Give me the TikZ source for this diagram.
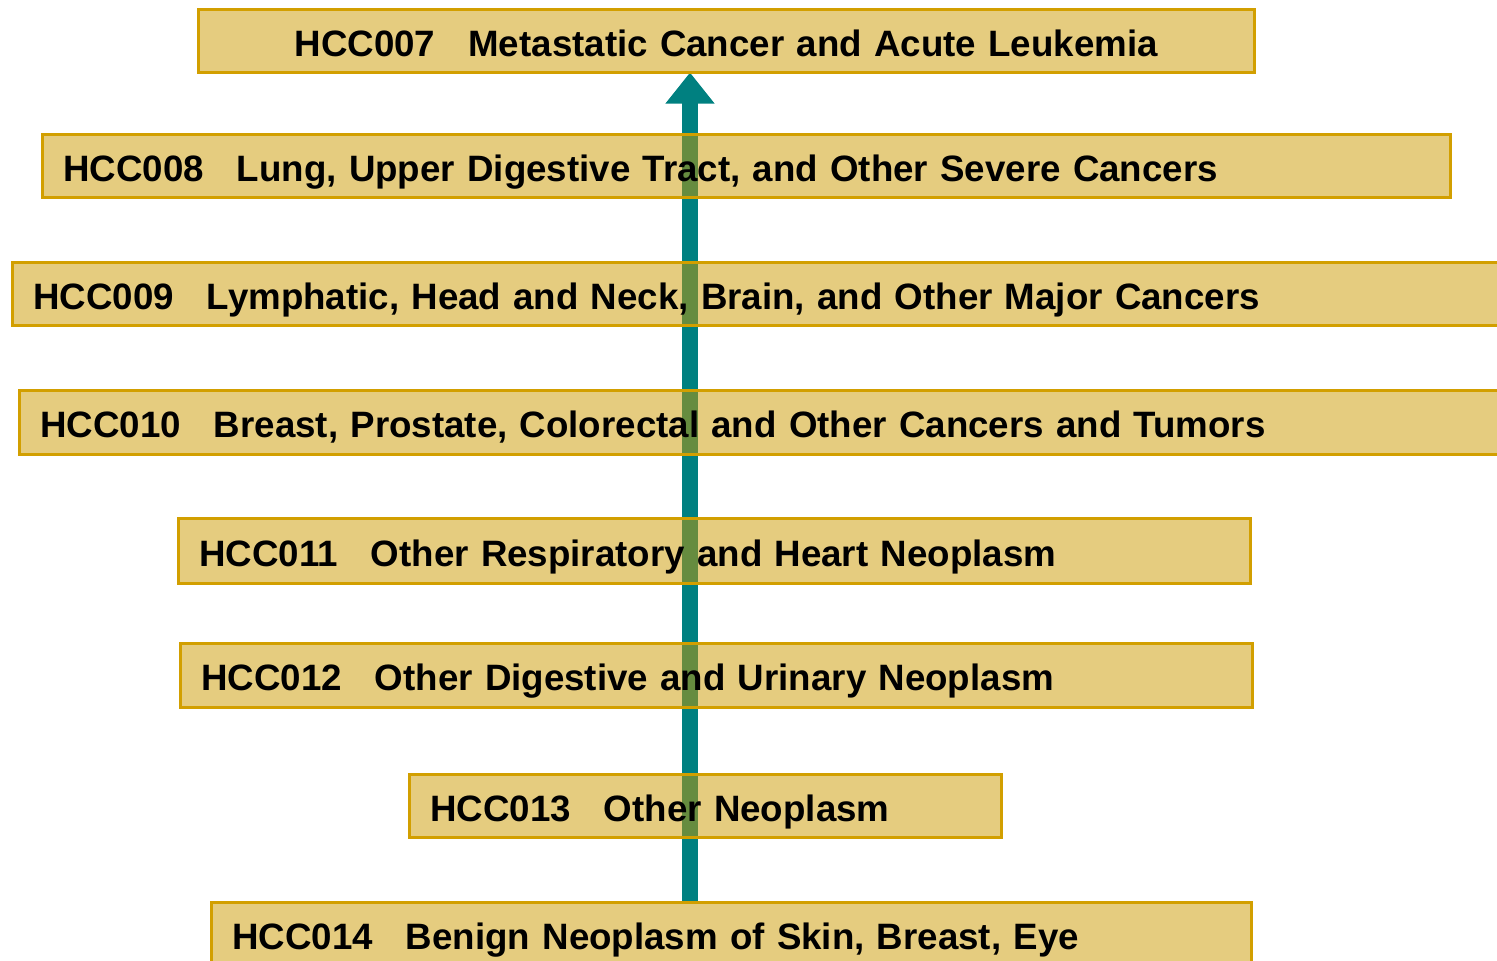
\documentclass[tikz,border=0pt]{standalone}
\usepackage{fontspec}
\setmainfont{Liberation Sans}
\usetikzlibrary{arrows.meta}
\definecolor{boxgold}{HTML}{CC9900}
\definecolor{boxline}{HTML}{D29F00}
\definecolor{arrowteal}{HTML}{008080}
\tikzset{
  hccbox/.style={draw=boxline, line width=2.5pt, fill=boxgold, fill opacity=0.5, text opacity=1,
    anchor=north west, minimum height=63pt, inner xsep=21pt, inner ysep=0pt, align=left,
    text height=35.5pt, text depth=5pt,
    font=\fontsize{36.7pt}{40pt}\selectfont\bfseries},
  bigarrow/.style={draw=arrowteal, line width=16pt, -{Triangle[width=47pt,length=31pt]}}
}
\newcommand{\gapcode}{\hspace{33pt}}
\begin{document}
\begin{tikzpicture}[x=1pt,y=-1pt]
\useasboundingbox (0,0) rectangle (1497,961);
\clip (0,0) rectangle (1497,961);
\coordinate (abot) at (690,903);
\coordinate (atop) at (690,72.5);
\draw[bigarrow] (abot) -- (atop);
\node[hccbox, text width=1056pt-42pt, align=center] (h7) at (197,8) {HCC007\gapcode Metastatic Cancer and Acute Leukemia};
\node[hccbox, text width=1408pt-42pt] (h8) at (41,133) {HCC008\gapcode Lung, Upper Digestive Tract, and Other Severe Cancers};
\node[hccbox, text width=1520pt-42pt] (h9) at (11,261) {HCC009\gapcode Lymphatic, Head and Neck, Brain, and Other Major Cancers};
\node[hccbox, text width=1520pt-42pt, minimum height=64pt] (h10) at (18,389) {HCC010\gapcode Breast, Prostate, Colorectal and Other Cancers and Tumors};
\node[hccbox, text width=1072pt-42pt, minimum height=65pt] (h11) at (177,517) {HCC011\gapcode Other Respiratory and Heart Neoplasm};
\node[hccbox, text width=1072pt-42pt, minimum height=64pt] (h12) at (179,642) {HCC012\gapcode Other Digestive and Urinary Neoplasm};
\node[hccbox, text width=592pt-42pt] (h13) at (408,773) {HCC013\gapcode Other Neoplasm};
\node[hccbox, text width=1040pt-42pt] (h14) at (210,901) {HCC014\gapcode Benign Neoplasm of Skin, Breast, Eye};
\end{tikzpicture}
\end{document}
